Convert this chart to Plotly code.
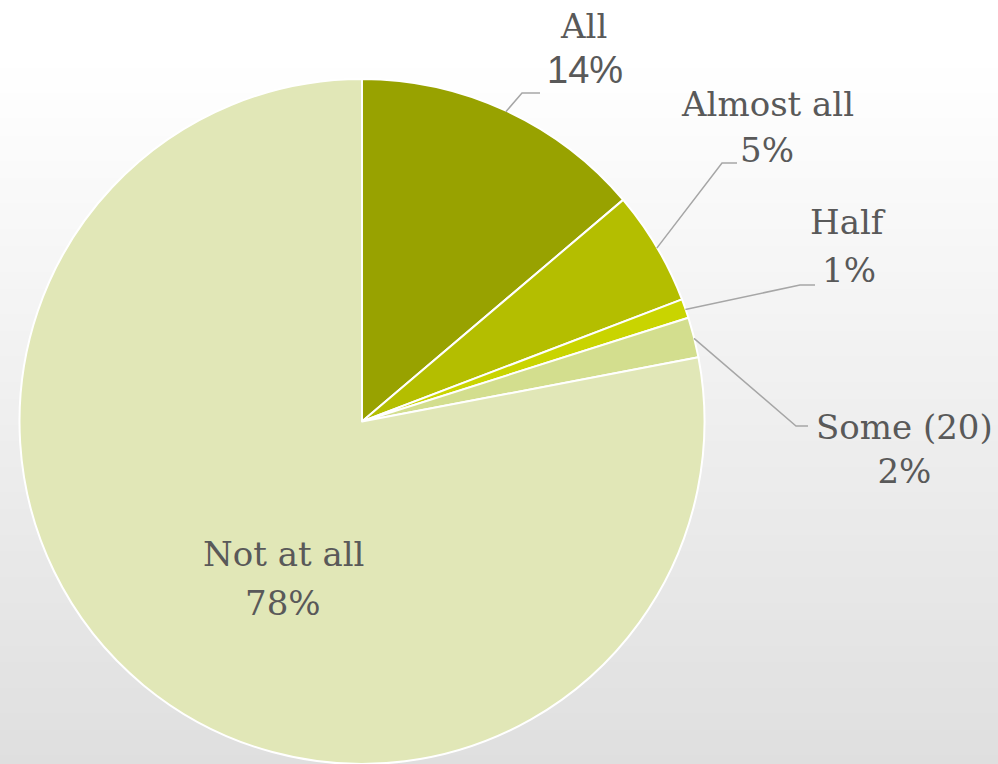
import math
import plotly.graph_objects as go

# ---- data ----
categories = ["All", "Almost all", "Half", "Some (20)", "Not at all"]
values = [13.8, 5.4, 0.9, 1.9, 78.0]
pct_labels = ["14%", "5%", "1%", "2%", "78%"]
colors = ["#98a200", "#b4be00", "#c9d400", "#d3de8e", "#e1e7b7"]

W, H = 998, 764
CX, CY, R = 362, 422.5, 342.5

SERIF = "DejaVu Serif"
SANS = "Liberation Sans"

fig = go.Figure()
fig.add_trace(go.Pie(
    labels=categories, values=values, sort=False, direction="clockwise",
    rotation=0, textinfo="none", hoverinfo="label+percent",
    marker=dict(colors=colors, line=dict(color="#ffffff", width=2)),
    domain=dict(x=[(CX - R) / W, (CX + R) / W], y=[0, 2 * R / H]),
    showlegend=False,
))

shapes = []
# background gradient (white top -> light gray bottom)
N = 90
for i in range(N):
    y0 = i / N
    y1 = (i + 1) / N
    ypix = H * (1 - (y0 + y1) / 2)
    t = max(0.0, (ypix - 60) / (H - 60))
    g = int(round(255 - t * 32))
    shapes.append(dict(type="rect", xref="paper", yref="paper", x0=0, x1=1,
                       y0=y0, y1=y1 + 0.002, line=dict(width=0),
                       fillcolor=f"rgb({g},{g},{g})", layer="below"))

def px(x, y):
    return x / W, 1 - y / H

# label layout: (name centre, percent centre or None=combined), leader elbow, leader end
label_pos = {
    "All": ((583, 26), (585, 70), (522, 93), (540, 93)),
    "Almost all": ((767, 104), (767, 150), (722, 163), (737, 163)),
    "Half": ((848, 222), (849, 270), (800, 285), (815, 285)),
    "Some (20)": ((904, 449), None, (796, 426), (808, 426)),
    "Not at all": ((283, 554), (283, 603), None, None),
}

annotations = []
cum = 0.0
total = sum(values)
for cat, v, p in zip(categories, values, pct_labels):
    mid = (cum + v / 2) / total * 2 * math.pi
    cum += v
    (nx, ny), pct_pos, elbow, end = label_pos[cat]
    x, y = px(nx, ny)
    serif_font = dict(family=SERIF, size=34, color="#595959")
    if pct_pos is None:
        annotations.append(dict(text=f"{cat}<br>{p}", x=x, y=y, xref="paper", yref="paper",
                                xanchor="center", yanchor="middle", showarrow=False,
                                align="center", borderpad=0, font=serif_font))
    else:
        annotations.append(dict(text=cat, x=x, y=y, xref="paper", yref="paper",
                                xanchor="center", yanchor="middle", showarrow=False,
                                font=serif_font))
        if cat == "All":
            pf = dict(family=SANS, size=38, color="#595959")
        else:
            pf = serif_font
        x, y = px(*pct_pos)
        annotations.append(dict(text=p, x=x, y=y, xref="paper", yref="paper",
                                xanchor="center", yanchor="middle", showarrow=False,
                                font=pf))
    if elbow is not None:
        sx = CX + R * math.sin(mid)
        sy = CY - R * math.cos(mid)
        pts = [px(sx, sy), px(*elbow), px(*end)]
        path = "M {} {} L {} {} L {} {}".format(*[c for pt in pts for c in pt])
        shapes.append(dict(type="path", xref="paper", yref="paper", path=path,
                           line=dict(color="#a6a6a6", width=1.5), layer="above"))

fig.update_layout(
    width=W, height=H, margin=dict(l=0, r=0, t=0, b=0),
    paper_bgcolor="#ffffff", plot_bgcolor="rgba(0,0,0,0)",
    shapes=shapes, annotations=annotations,
)
fig.write_html("out.html")
